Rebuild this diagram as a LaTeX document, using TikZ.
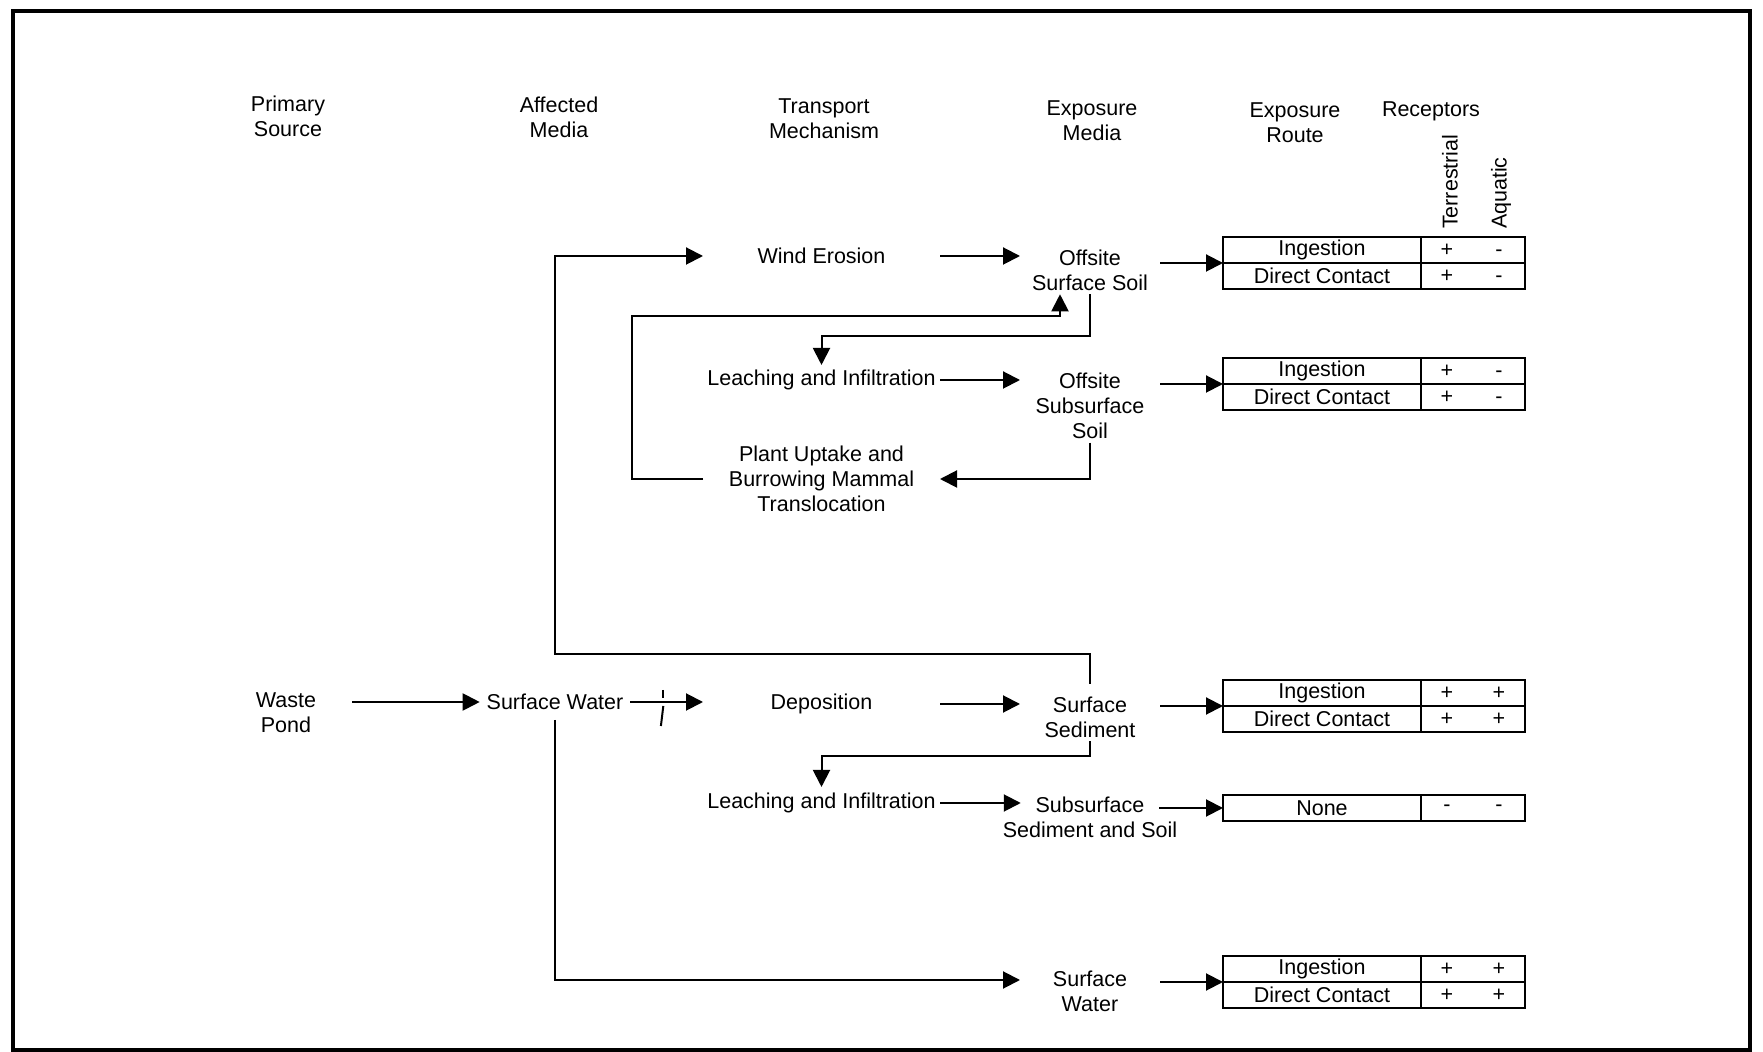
\documentclass[tikz,border=0pt]{standalone}
\usepackage{fontspec}
\setmainfont{Liberation Sans}
\usetikzlibrary{arrows.meta}
% receptor signs: terrestrial and aquatic columns
\newcommand{\sgn}[2]{\makebox[26pt]{#1}\makebox[26pt]{#2}}
\begin{document}
\begin{tikzpicture}[x=0.5pt, y=-0.5pt,
  every node/.style={font=\fontsize{10.75}{12.4}\selectfont, inner sep=0pt, outer sep=0pt, align=center},
  tmech/.style={minimum width=118.5pt},
  emed/.style={minimum width=70pt},
  flow/.style={line width=1pt, -{Triangle[length=8.5pt,width=8.5pt]}},
  link/.style={line width=1pt},
  rcell/.style={draw, line width=1.2pt, minimum width=99pt, minimum height=13pt},
  pcell/.style={draw, line width=1.2pt, minimum width=52pt, minimum height=13pt},
]
\useasboundingbox (0,0) rectangle (1763,1052);
\draw[line width=1.7pt] (13,11) rectangle (1750,1050);

% column headings
\node (hps) at (288,116) {Primary\\Source};
\node (ham) at (559,117) {Affected\\Media};
\node (htm) at (824,119) {Transport\\Mechanism};
\node (hem) at (1092,121) {Exposure\\Media};
\node (her) at (1295,123) {Exposure\\Route};
\node (hrc) at (1431,111) {Receptors};
\node[rotate=90, anchor=west] (hte) at (1450,229) {Terrestrial};
\node[rotate=90, anchor=west] (haq) at (1501,229) {Aquatic};

% sources and affected media
\node (wp) at (286,713) {Waste\\Pond};
\node (swa) at (555,702) {Surface Water};

% transport mechanisms
\node[tmech] (we) at (821.5,256) {Wind Erosion};
\node[tmech] (lia) at (821.5,380) {Leaching and Infiltration};
\node[tmech] (pu) at (821.5,479) {Plant Uptake and\\Burrowing Mammal\\Translocation};
\node[tmech] (dep) at (821.5,704) {Deposition};
\node[tmech] (lib) at (821.5,803) {Leaching and Infiltration};

% exposure media
\node[emed] (oss) at (1090,270) {Offsite\\Surface Soil};
\node[emed] (osub) at (1090,406) {Offsite\\Subsurface\\Soil};
\node[emed] (ssed) at (1090,717) {Surface\\Sediment};
\node[emed] (ssub) at (1090,817) {Subsurface\\Sediment and Soil};
\node[emed] (swe) at (1090,991) {Surface\\Water};

% exposure routes and receptors
\node[rcell] (t1i) at (1322,250) {Ingestion};
\node[rcell] (t1d) at (1322,276) {Direct Contact};
\node[pcell] (t1ip) at (1473,250) {\sgn{+}{-}};
\node[pcell] (t1dp) at (1473,276) {\sgn{+}{-}};

\node[rcell] (t2i) at (1322,371) {Ingestion};
\node[rcell] (t2d) at (1322,397) {Direct Contact};
\node[pcell] (t2ip) at (1473,371) {\sgn{+}{-}};
\node[pcell] (t2dp) at (1473,397) {\sgn{+}{-}};

\node[rcell] (t3i) at (1322,693) {Ingestion};
\node[rcell] (t3d) at (1322,719) {Direct Contact};
\node[pcell] (t3ip) at (1473,693) {\sgn{+}{+}};
\node[pcell] (t3dp) at (1473,719) {\sgn{+}{+}};

\node[rcell] (t4) at (1322,808) {None};
\node[pcell] (t4p) at (1473,808) {\sgn{-}{-}};

\node[rcell] (t5i) at (1322,969) {Ingestion};
\node[rcell] (t5d) at (1322,995) {Direct Contact};
\node[pcell] (t5ip) at (1473,969) {\sgn{+}{+}};
\node[pcell] (t5dp) at (1473,995) {\sgn{+}{+}};

% upper pathways
\draw[flow] (we.east) -- (we.east -| oss.west);
\draw[flow] (oss.east |- t1i.south west) -- (t1i.south west);
\draw[flow] ([yshift=-2pt]oss.south) -- ++(0,42) -| ([yshift=2.5pt]lia.north);
\draw[flow] (pu.west) -- ++(-71,0) |- ([xshift=-15pt,yshift=-13pt]oss.south) -- ([xshift=-15pt,yshift=-2pt]oss.south);
\draw[flow] (lia.east) -- (lia.east -| osub.west);
\draw[flow] (osub.east |- t2i.south west) -- (t2i.south west);
\draw[flow] ([yshift=-2pt]osub.south) |- (pu.east);
\draw[flow] ([yshift=6.5pt]ssed.north) |- ([yshift=20pt]swa.north) |- (we.west);

% lower pathways
\draw[flow] ([xshift=18pt]wp.east |- swa.west) -- ([xshift=-3.5pt]swa.west);
\draw[flow] ([xshift=3.5pt]swa.east) -- (swa.east -| dep.west);
\coordinate (brk) at ([xshift=20pt]swa.east);
\draw[link] ([yshift=6pt]brk) -- ([yshift=2pt]brk);
\draw[link] ([yshift=-2pt]brk) -- ([xshift=-1.2pt,yshift=-12pt]brk);
\draw[flow] (dep.east) -- (dep.east -| ssed.west);
\draw[flow] (ssed.east |- t3i.south west) -- (t3i.south west);
\draw[flow] ([yshift=-2pt]ssed.south) -- ++(0,15) -| ([yshift=3pt]lib.north);
\draw[flow] (lib.east) -- ([xshift=9pt]ssub.west |- lib.east);
\draw[flow] ([xshift=-9pt]ssub.east |- t4.west) -- (t4.west);
\draw[flow] ([yshift=-5pt]swa.south) |- ([yshift=5.5pt]swe.west);
\draw[flow] (swe.east |- t5i.south west) -- (t5i.south west);
\end{tikzpicture}
\end{document}
